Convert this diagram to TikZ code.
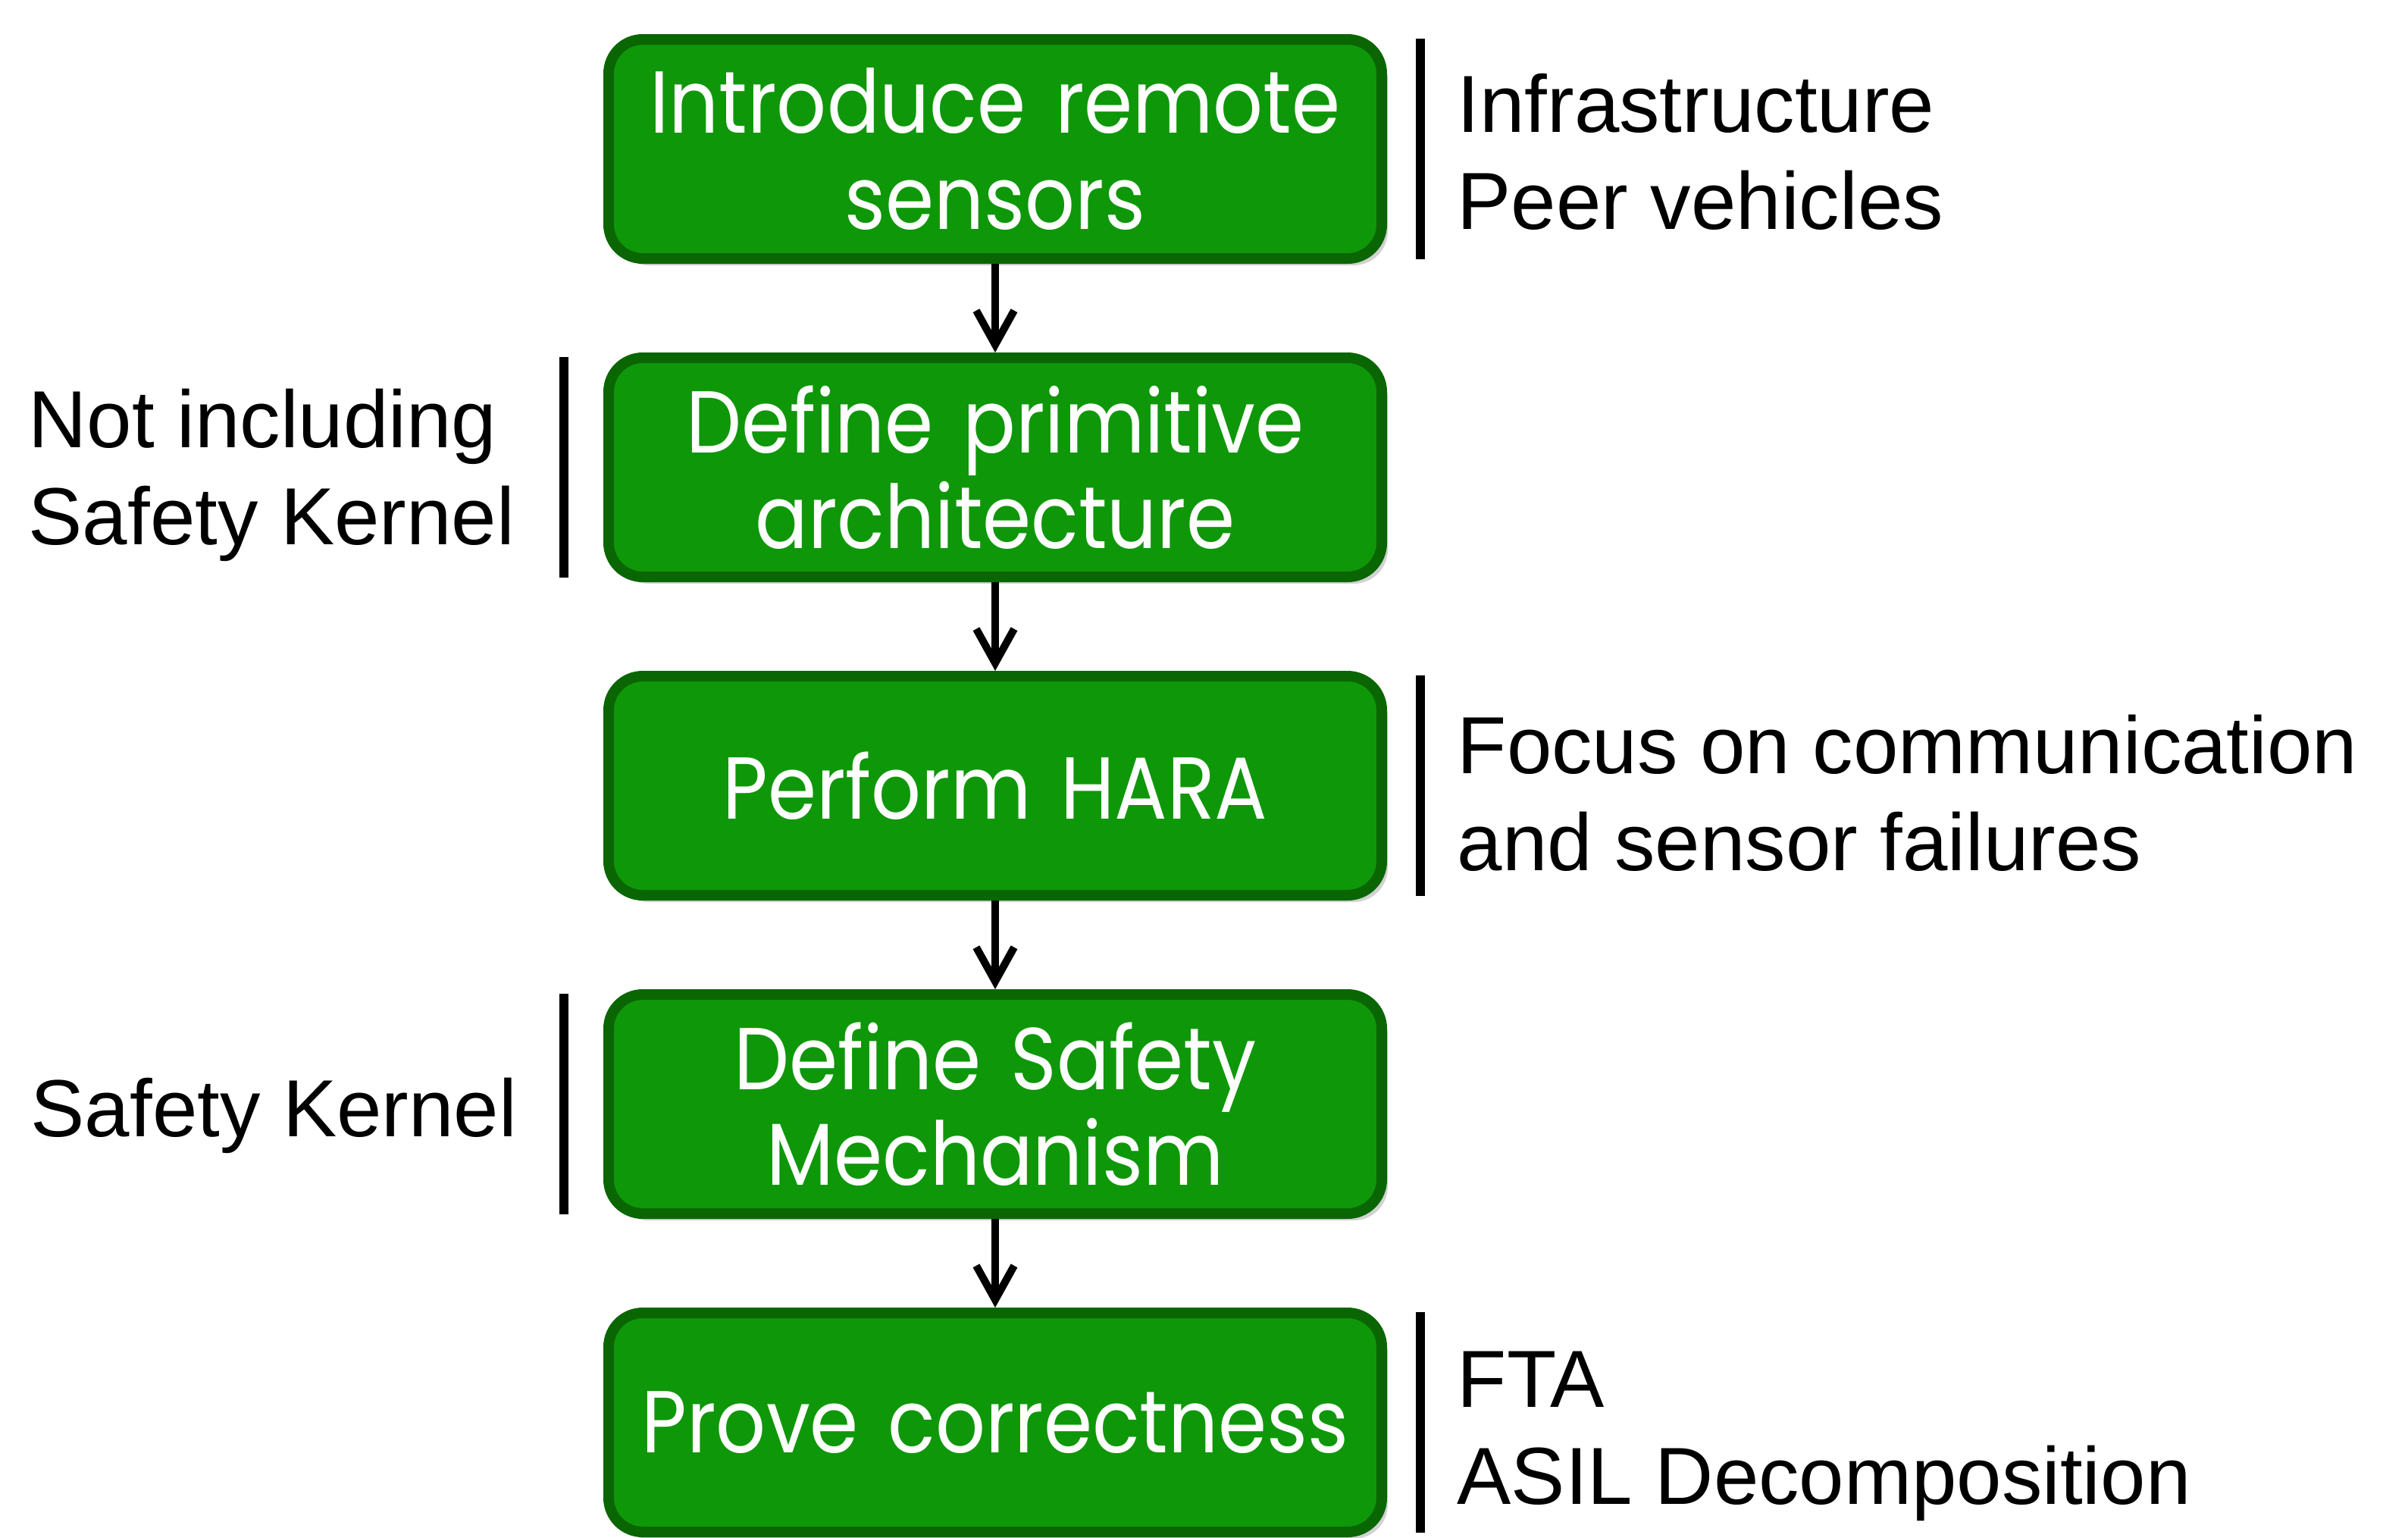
\documentclass[tikz,border=0pt]{standalone}
\usepackage{fontspec}
\setmainfont{Liberation Sans}
\newfontfamily\boxfont{Poppins}[FakeStretch=0.89]
\usetikzlibrary{positioning, shadows, arrows.meta}
\definecolor{stepgreen}{HTML}{0F970A}
\definecolor{stepdark}{HTML}{0A6602}

\begin{document}
\begin{tikzpicture}[node distance=1.17cm,
  stepbox/.style={draw=stepdark, fill=stepgreen, line width=0.14cm, rounded corners=0.45cm,
    minimum width=10.2cm, minimum height=2.89cm, text width=9.6cm, align=center, text=white,
    font=\boxfont\fontsize{33}{36}\selectfont,
    drop shadow={shadow xshift=0.08cm, shadow yshift=-0.09cm, opacity=0.35}},
  note/.style={align=left, inner sep=0pt, font=\fontsize{30.4}{36.5}\selectfont},
  bar/.style={line width=0.12cm},
  flow/.style={line width=0.1cm, -{Straight Barb[length=0.45cm, width=0.5cm, line width=0.1cm]}}]
\path[use as bounding box, fill=white] (0,0) rectangle (31.77,-20.28);

\node[stepbox] (b1) at (13.13,-1.965) {Introduce remote\\sensors};
\node[stepbox, below=of b1] (b2) {Define primitive\\architecture};
\node[stepbox, below=of b2] (b3) {Perform HARA};
\node[stepbox, below=of b3] (b4) {Define Safety\\Mechanism};
\node[stepbox, below=of b4] (b5) {Prove correctness};

\draw[flow] (b1) -- (b2);
\draw[flow] (b2) -- (b3);
\draw[flow] (b3) -- (b4);
\draw[flow] (b4) -- (b5);

% side notes
\draw[bar] ([xshift=0.44cm, yshift=-0.06cm]b1.north east) -- ([xshift=0.44cm, yshift=0.06cm]b1.south east);
\draw[bar] ([xshift=0.44cm, yshift=-0.06cm]b3.north east) -- ([xshift=0.44cm, yshift=0.06cm]b3.south east);
\draw[bar] ([xshift=0.44cm, yshift=-0.06cm]b5.north east) -- ([xshift=0.44cm, yshift=0.06cm]b5.south east);
\draw[bar] ([xshift=-0.52cm, yshift=-0.06cm]b2.north west) -- ([xshift=-0.52cm, yshift=0.06cm]b2.south west);
\draw[bar] ([xshift=-0.52cm, yshift=-0.06cm]b4.north west) -- ([xshift=-0.52cm, yshift=0.06cm]b4.south west);

\node[note, anchor=west] (t1) at ([xshift=0.92cm, yshift=-0.04cm]b1.east) {Infrastructure\\Peer vehicles};
\node[note, anchor=west] (t3) at ([xshift=0.92cm, yshift=-0.1cm]b3.east) {Focus on communication\\and sensor failures};
\node[note, anchor=west] (t5) at ([xshift=0.92cm, yshift=-0.18cm]b5.east) {FTA\\ASIL Decomposition};
\node[note, anchor=west] (t2) at ([yshift=-0.1cm]0.37,0 |- b2) {Not including\\Safety Kernel};
\node[note, anchor=west] (t4) at ([yshift=-0.15cm]0.40,0 |- b4) {Safety Kernel};
\end{tikzpicture}
\end{document}
